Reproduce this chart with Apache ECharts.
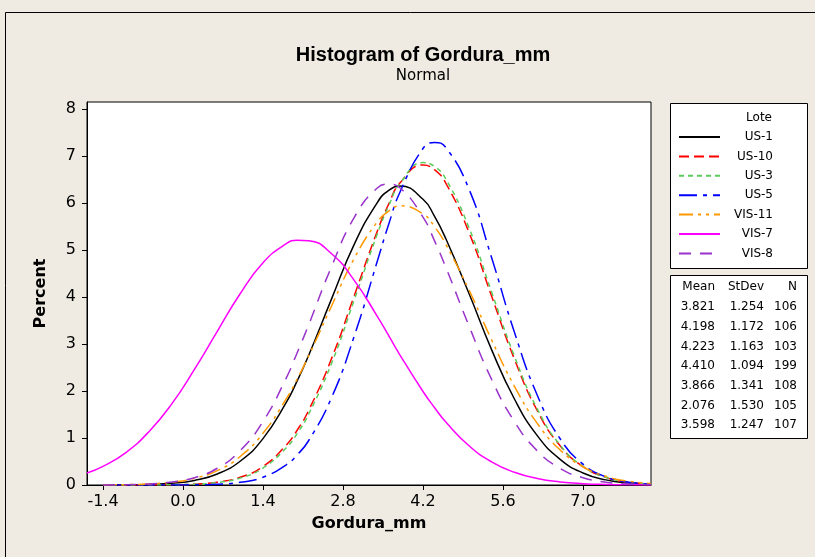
<!DOCTYPE html>
<html>
<head>
<meta charset="utf-8">
<script src="https://cdn.jsdelivr.net/npm/echarts@6/dist/echarts.min.js"></script>
<style>
html, body { margin: 0; padding: 0; background: #efebe2; }
#main { width: 815px; height: 557px; }
</style>
</head>
<body>
<div id="main"></div>
<script>
// x positions (Gordura_mm) where the fitted curves were read
var xs = [-1.68, -1.4, -1.0, -0.6, -0.2, 0.2, 0.6, 1.0, 1.4, 1.8, 2.0, 2.2, 2.6, 3.0, 3.4, 3.6, 3.8, 4.2, 4.4, 4.6, 5.0, 5.4, 5.8, 6.2, 6.6, 7.0, 7.4, 7.8, 8.19];

// Percent values
var us1   = [null, 0.00, 0.004, 0.013, 0.037, 0.098, 0.234, 0.506, 0.987, 1.74, 2.22, 2.76, 3.96, 5.13, 6.01, 6.27, 6.36, 6.08, 5.72, 5.24, 4.09, 2.88, 1.83, 1.05, 0.547, 0.256, 0.109, 0.041, 0.015];
var us10  = [null, 0.0, 0.0, 0.002, 0.006, 0.020, 0.061, 0.165, 0.393, 0.839, 1.17, 1.59, 2.69, 4.04, 5.40, 5.98, 6.43, 6.81, 6.71, 6.42, 5.39, 4.02, 2.68, 1.58, 0.834, 0.390, 0.163, 0.061, 0.022];
var us3   = [null, 0.0, 0.0, 0.001, 0.005, 0.017, 0.053, 0.147, 0.361, 0.783, 1.10, 1.51, 2.59, 3.95, 5.34, 5.94, 6.42, 6.86, 6.78, 6.51, 5.49, 4.11, 2.74, 1.62, 0.849, 0.396, 0.164, 0.061, 0.022];
var us5   = [null, 0.0, 0.0, 0.0, 0.001, 0.004, 0.017, 0.057, 0.166, 0.424, 0.645, 0.947, 1.86, 3.18, 4.76, 5.55, 6.24, 7.16, 7.29, 7.18, 6.31, 4.84, 3.25, 1.91, 0.984, 0.443, 0.174, 0.060, 0.020];
var vis11 = [null, 0.003, 0.008, 0.023, 0.060, 0.142, 0.306, 0.606, 1.10, 1.82, 2.26, 2.75, 3.81, 4.83, 5.60, 5.83, 5.94, 5.77, 5.50, 5.12, 4.16, 3.09, 2.10, 1.31, 0.745, 0.388, 0.185, 0.080, 0.033];
var vis7  = [0.256, 0.395, 0.691, 1.13, 1.72, 2.46, 3.27, 4.07, 4.73, 5.13, 5.21, 5.20, 4.92, 4.35, 3.59, 3.18, 2.76, 1.99, 1.65, 1.34, 0.840, 0.492, 0.270, 0.138, 0.066, 0.029, 0.012, 0.005, 0.002];
var vis8  = [null, 0.002, 0.007, 0.022, 0.062, 0.156, 0.356, 0.731, 1.35, 2.26, 2.82, 3.41, 4.65, 5.70, 6.32, 6.40, 6.32, 5.70, 5.20, 4.63, 3.40, 2.25, 1.35, 0.726, 0.353, 0.155, 0.061, 0.022, 0.008];

var lotes  = ['US-1', 'US-10', 'US-3', 'US-5', 'VIS-11', 'VIS-7', 'VIS-8'];
var means  = ['3.821', '4.198', '4.223', '4.410', '3.866', '2.076', '3.598'];
var stdevs = ['1.254', '1.172', '1.163', '1.094', '1.341', '1.530', '1.247'];
var counts = ['106', '106', '103', '199', '108', '105', '107'];

var xTicks = [-1.4, 0.0, 1.4, 2.8, 4.2, 5.6, 7.0];
var yTicks = [0, 1, 2, 3, 4, 5, 6, 7, 8];

var font = 'DejaVu Sans';
var chartDom = document.getElementById('main');
var myChart = echarts.init(chartDom);

function pts(vals) {
    return xs.map(function (x, i) { return [x, vals[i]]; });
}

var curveStyle = [
    { color: '#000000', type: 'solid' },
    { color: '#ff0000', type: [10, 5] },
    { color: '#5ccc5c', type: [5, 4] },
    { color: '#0000ff', type: [18, 6, 4, 6] },
    { color: '#ff9900', type: [14, 5, 3, 5, 3, 5] },
    { color: '#ff00ff', type: 'solid' },
    { color: '#9933cc', type: [12, 9] }
];
var curveData = [us1, us10, us3, us5, vis11, vis7, vis8];

var series = lotes.map(function (name, i) {
    return {
        name: name,
        type: 'line',
        smooth: true,
        symbol: 'none',
        data: pts(curveData[i]),
        lineStyle: { color: curveStyle[i].color, type: curveStyle[i].type, width: 1.5 },
        itemStyle: { color: curveStyle[i].color }
    };
});

// stats table as plain text
var statsGraphic = [];
var heads = [['Mean', 715], ['StDev', 764], ['N', 797]];
heads.forEach(function (h) {
    statsGraphic.push({ type: 'text', x: h[1], y: 287, style: { text: h[0], font: '12px ' + font, fill: '#000', textAlign: 'right', textVerticalAlign: 'middle' } });
});
for (var i = 0; i < means.length; i++) {
    var yy = 307 + i * 19.7;
    [[means[i], 715], [stdevs[i], 764], [counts[i], 797]].forEach(function (c) {
        statsGraphic.push({ type: 'text', x: c[1], y: yy, style: { text: c[0], font: '12px ' + font, fill: '#000', textAlign: 'right', textVerticalAlign: 'middle' } });
    });
}

var option = {
    backgroundColor: '#efebe2',
    animation: false,
    title: {
        text: 'Histogram of Gordura_mm',
        subtext: 'Normal',
        left: 418,
        textAlign: 'center',
        top: 40,
        itemGap: 4,
        textStyle: { fontFamily: 'Liberation Sans', fontWeight: 'bold', fontSize: 20, color: '#000' },
        subtextStyle: { fontFamily: font, fontSize: 15, color: '#000' }
    },
    grid: {
        left: 87,
        right: 164,
        top: 102,
        bottom: 72,
        show: true,
        backgroundColor: '#ffffff',
        borderColor: '#000',
        borderWidth: 1
    },
    legend: {
        orient: 'vertical',
        left: 678,
        top: 131,
        padding: 0,
        itemWidth: 41,
        itemHeight: 12,
        itemGap: 7.4,
        data: lotes,
        itemStyle: { opacity: 0 },
        formatter: function (n) { return '{a|' + n + '}'; },
        textStyle: {
            rich: { a: { width: 48, align: 'right', fontSize: 12, fontFamily: font, color: '#000' } }
        }
    },
    xAxis: {
        type: 'value',
        min: -1.68,
        max: 8.19,
        name: 'Gordura_mm',
        nameLocation: 'middle',
        nameGap: 31,
        nameTextStyle: { fontFamily: font, fontWeight: 'bold', fontSize: 16, color: '#000' },
        axisLine: { show: true, onZero: false, lineStyle: { color: '#000' } },
        axisTick: { show: true, length: 5, customValues: xTicks, lineStyle: { color: '#000' } },
        axisLabel: {
            customValues: xTicks,
            formatter: function (v) { return v.toFixed(1); },
            fontFamily: font, fontSize: 16, color: '#000', margin: 9
        },
        splitLine: { show: false }
    },
    yAxis: {
        type: 'value',
        min: 0,
        max: 8.15,
        name: 'Percent',
        nameLocation: 'middle',
        nameRotate: 90,
        nameGap: 38,
        nameTextStyle: { fontFamily: font, fontWeight: 'bold', fontSize: 16, color: '#000' },
        axisLine: { show: true, onZero: false, lineStyle: { color: '#000' } },
        axisTick: { show: true, length: 5, customValues: yTicks, lineStyle: { color: '#000' } },
        axisLabel: { customValues: yTicks, fontFamily: font, fontSize: 16, color: '#000', margin: 11 },
        splitLine: { show: false }
    },
    graphic: [
        { type: 'rect', z: -10, shape: { x: 5.5, y: 12.5, width: 830, height: 560 }, style: { fill: null, stroke: '#000', lineWidth: 1 } },
        { type: 'rect', shape: { x: 670.5, y: 103.5, width: 137, height: 165 }, style: { fill: '#fff', stroke: '#000', lineWidth: 1 }, z: -1 },
        { type: 'rect', shape: { x: 670.5, y: 275.5, width: 137, height: 163 }, style: { fill: '#fff', stroke: '#000', lineWidth: 1 }, z: -1 },
        { type: 'text', x: 772, y: 118, style: { text: 'Lote', font: '12px ' + font, fill: '#000', textAlign: 'right', textVerticalAlign: 'middle' } }
    ].concat(statsGraphic),
    series: series
};
myChart.setOption(option);
</script>
</body>
</html>
